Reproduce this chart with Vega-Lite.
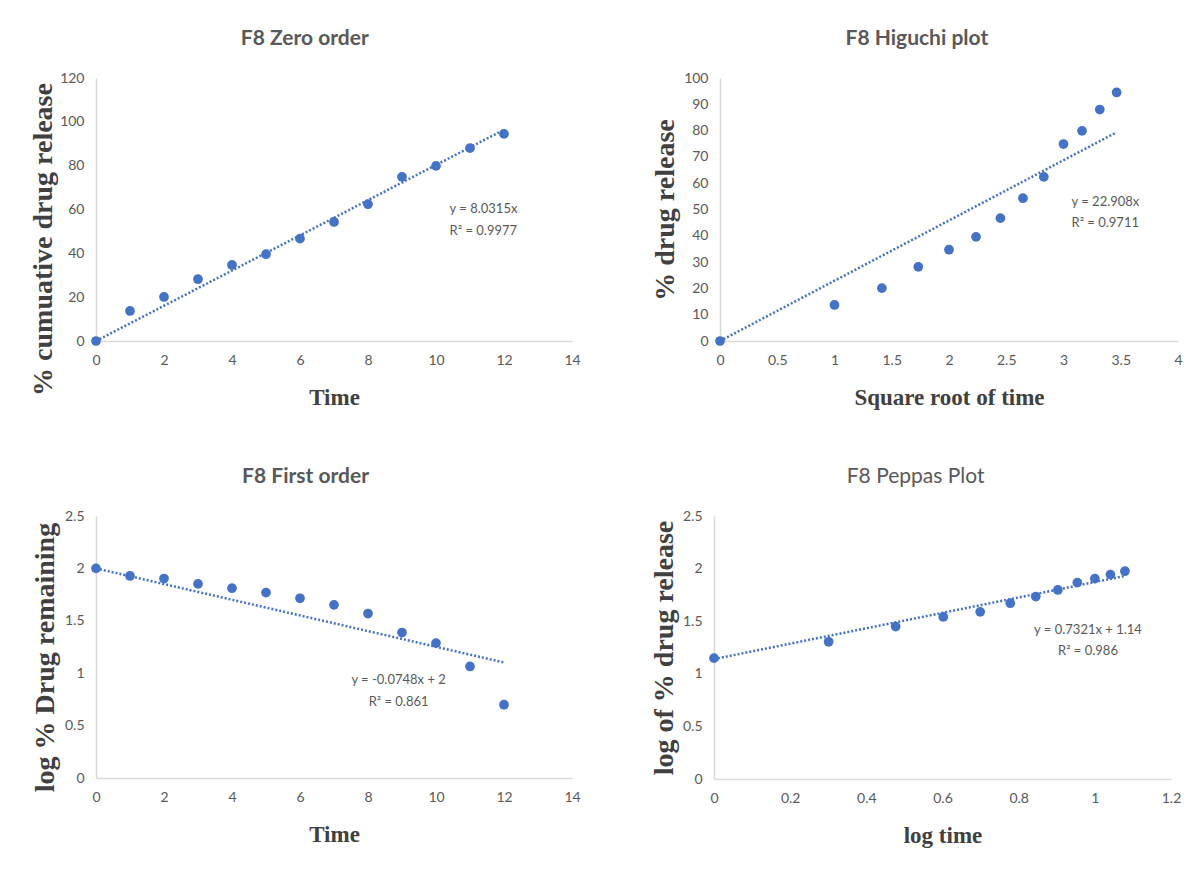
{
  "$schema": "https://vega.github.io/schema/vega-lite/v6.json",
  "background": "white",
  "padding": {"left": 29, "top": 28, "right": 5, "bottom": 5},
  "config": {
    "view": {"stroke": null},
    "axis": {"domainColor": "#d9d9d9", "domainWidth": 1.5, "ticks": false, "grid": false, "labelColor": "#595959", "labelFont": "Lato", "labelFontSize": 14, "titleFont": "Liberation Serif", "titleFontWeight": "bold", "titleColor": "#404040", "format": "~r"},
    "axisX": {"titleFontSize": 23, "titlePadding": 19, "labelPadding": 12, "labelFlush": false},
    "axisY": {"titleFontSize": 28, "titlePadding": 4, "labelPadding": 12},
    "title": {"font": "Lato", "fontSize": 21, "fontWeight": "bold", "color": "#595959", "anchor": "middle", "frame": "bounds", "offset": 22},
    "circle": {"color": "#4472C4", "size": 95, "opacity": 1},
    "line": {"color": "#4472C4", "strokeDash": [2, 2], "strokeWidth": 2.5},
    "text": {"font": "Lato", "fontSize": 13, "color": "#595959"}
  },
  "vconcat": [
    {
      "spacing": 70,
      "hconcat": [
        {
          "width": 476, "height": 263,
          "title": "F8 Zero order",
          "encoding": {
            "x": {"field": "x", "type": "quantitative", "scale": {"domain": [0, 14], "nice": false}, "axis": {"values": [0, 2, 4, 6, 8, 10, 12, 14], "title": "Time"}},
            "y": {"field": "y", "type": "quantitative", "scale": {"domain": [0, 120], "nice": false}, "axis": {"values": [0, 20, 40, 60, 80, 100, 120], "title": "% cumuative drug release", "titleY": 161, "titleX": -38.5}}
          },
          "layer": [
            {"data": {"values": [{"x": 0, "y": 0}, {"x": 12, "y": 96.38}]}, "mark": {"type": "line"}},
            {"data": {"values": [
              {"x": 0, "y": 0}, {"x": 1, "y": 13.7}, {"x": 2, "y": 20.1}, {"x": 3, "y": 28.2}, {"x": 4, "y": 34.7}, {"x": 5, "y": 39.6}, {"x": 6, "y": 46.7}, {"x": 7, "y": 54.3}, {"x": 8, "y": 62.4}, {"x": 9, "y": 74.9}, {"x": 10, "y": 79.9}, {"x": 11, "y": 88}, {"x": 12, "y": 94.5}
            ]}, "mark": {"type": "circle"}},
            {"data": {"values": [{"x": 10.4, "y": 60.2, "label": "y = 8.0315x"}, {"x": 10.4, "y": 50.2, "label": "R² = 0.9977"}]}, "mark": {"type": "text", "align": "left"}, "encoding": {"text": {"field": "label"}}}
          ]
        },
        {
          "width": 458, "height": 263,
          "title": "F8 Higuchi plot",
          "encoding": {
            "x": {"field": "x", "type": "quantitative", "scale": {"domain": [0, 4], "nice": false}, "axis": {"values": [0, 0.5, 1, 1.5, 2, 2.5, 3, 3.5, 4], "title": "Square root of time"}},
            "y": {"field": "y", "type": "quantitative", "scale": {"domain": [0, 100], "nice": false}, "axis": {"values": [0, 10, 20, 30, 40, 50, 60, 70, 80, 90, 100], "title": "% drug release"}}
          },
          "layer": [
            {"data": {"values": [{"x": 0, "y": 0}, {"x": 3.464, "y": 79.36}]}, "mark": {"type": "line"}},
            {"data": {"values": [
              {"x": 0, "y": 0}, {"x": 1, "y": 13.7}, {"x": 1.414, "y": 20.1}, {"x": 1.732, "y": 28.2}, {"x": 2, "y": 34.7}, {"x": 2.236, "y": 39.6}, {"x": 2.449, "y": 46.7}, {"x": 2.646, "y": 54.3}, {"x": 2.828, "y": 62.4}, {"x": 3, "y": 74.9}, {"x": 3.162, "y": 79.9}, {"x": 3.317, "y": 88}, {"x": 3.464, "y": 94.5}
            ]}, "mark": {"type": "circle"}},
            {"data": {"values": [{"x": 3.07, "y": 52.7, "label": "y = 22.908x"}, {"x": 3.07, "y": 44.7, "label": "R² = 0.9711"}]}, "mark": {"type": "text", "align": "left"}, "encoding": {"text": {"field": "label"}}}
          ]
        }
      ]
    },
    {
      "spacing": 69,
      "hconcat": [
        {
          "width": 476, "height": 262,
          "title": "F8 First order",
          "encoding": {
            "x": {"field": "x", "type": "quantitative", "scale": {"domain": [0, 14], "nice": false}, "axis": {"values": [0, 2, 4, 6, 8, 10, 12, 14], "title": "Time"}},
            "y": {"field": "y", "type": "quantitative", "scale": {"domain": [0, 2.5], "nice": false}, "axis": {"values": [0, 0.5, 1, 1.5, 2, 2.5], "title": "log % Drug remaining", "titleY": 141, "titleX": -37}}
          },
          "layer": [
            {"data": {"values": [{"x": 0, "y": 2}, {"x": 12, "y": 1.1024}]}, "mark": {"type": "line"}},
            {"data": {"values": [
              {"x": 0, "y": 2}, {"x": 1, "y": 1.928}, {"x": 2, "y": 1.903}, {"x": 3, "y": 1.852}, {"x": 4, "y": 1.811}, {"x": 5, "y": 1.769}, {"x": 6, "y": 1.715}, {"x": 7, "y": 1.652}, {"x": 8, "y": 1.569}, {"x": 9, "y": 1.388}, {"x": 10, "y": 1.287}, {"x": 11, "y": 1.064}, {"x": 12, "y": 0.699}
            ]}, "mark": {"type": "circle"}},
            {"data": {"values": [{"x": 8.9, "y": 0.935, "label": "y = -0.0748x + 2"}, {"x": 8.9, "y": 0.725, "label": "R² = 0.861"}]}, "mark": {"type": "text", "align": "center"}, "encoding": {"text": {"field": "label"}}}
          ]
        },
        {
          "width": 457, "height": 263,
          "title": {"text": "F8 Peppas Plot", "fontWeight": "normal"},
          "encoding": {
            "x": {"field": "x", "type": "quantitative", "scale": {"domain": [0, 1.2], "nice": false}, "axis": {"values": [0, 0.2, 0.4, 0.6, 0.8, 1, 1.2], "title": "log time"}},
            "y": {"field": "y", "type": "quantitative", "scale": {"domain": [0, 2.5], "nice": false}, "axis": {"values": [0, 0.5, 1, 1.5, 2, 2.5], "title": "log of % drug release"}}
          },
          "layer": [
            {"data": {"values": [{"x": 0, "y": 1.14}, {"x": 1.079, "y": 1.93}]}, "mark": {"type": "line"}},
            {"data": {"values": [
              {"x": 0, "y": 1.149}, {"x": 0.301, "y": 1.304}, {"x": 0.477, "y": 1.449}, {"x": 0.602, "y": 1.541}, {"x": 0.699, "y": 1.589}, {"x": 0.778, "y": 1.671}, {"x": 0.845, "y": 1.734}, {"x": 0.903, "y": 1.797}, {"x": 0.954, "y": 1.867}, {"x": 1.0, "y": 1.905}, {"x": 1.041, "y": 1.943}, {"x": 1.079, "y": 1.975}
            ]}, "mark": {"type": "circle"}},
            {"data": {"values": [{"x": 0.982, "y": 1.416, "label": "y = 0.7321x + 1.14"}, {"x": 0.982, "y": 1.217, "label": "R² = 0.986"}]}, "mark": {"type": "text", "align": "center"}, "encoding": {"text": {"field": "label"}}}
          ]
        }
      ]
    }
  ],
  "spacing": 57
}
